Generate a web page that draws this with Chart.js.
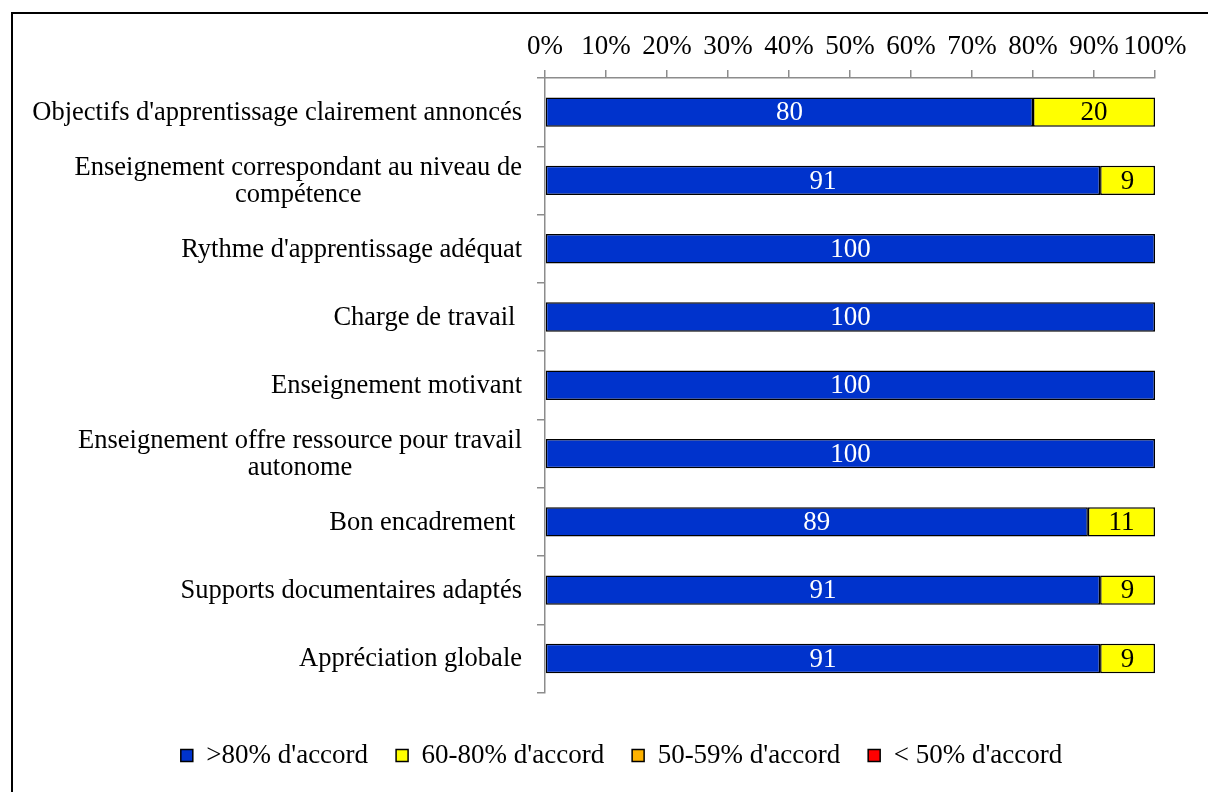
<!DOCTYPE html>
<html>
<head>
<meta charset="utf-8">
<script src="https://cdn.jsdelivr.net/npm/chart.js@4.4.0/dist/chart.umd.min.js"></script>
<style>
  html, body { margin: 0; padding: 0; background: #fff; overflow: hidden; }
</style>
</head>
<body>
<canvas id="chart" width="1208" height="792"></canvas>
<script>
// categories (arrays = wrapped labels)
const categories = [
  "Objectifs d'apprentissage clairement annoncés",
  ["Enseignement correspondant au niveau de", "compétence"],
  "Rythme d'apprentissage adéquat",
  "Charge de travail ",
  "Enseignement motivant",
  ["Enseignement offre ressource pour travail", "autonome"],
  "Bon encadrement ",
  "Supports documentaires adaptés",
  "Appréciation globale"
];

const seriesNames = [">80% d'accord", "60-80% d'accord", "50-59% d'accord", "< 50% d'accord"];
const over80   = [80, 91, 100, 100, 100, 100, 89, 91, 91];
const from60   = [20, 9, null, null, null, null, 11, 9, 9];
const from50   = [null, null, null, null, null, null, null, null, null];
const under50  = [null, null, null, null, null, null, null, null, null];

const xTicks = [0, 10, 20, 30, 40, 50, 60, 70, 80, 90, 100];

const fillColors  = ['#0033CC', '#FFFF00', '#FFB300', '#FF0000'];
const labelColors = ['#FFFFFF', '#000000', '#000000', '#FFFFFF'];
const axisGrey = '#8c8c8c';
const serif = '"Liberation Serif", "Times New Roman", serif';

const frame = {
  id: 'frame',
  beforeDraw(chart) {
    const ctx = chart.ctx;
    ctx.save();
    ctx.fillStyle = '#fff';
    ctx.fillRect(0, 0, chart.width, chart.height);
    ctx.strokeStyle = '#000';
    ctx.lineWidth = 2;
    ctx.strokeRect(12, 13, chart.width + 20, chart.height + 20);
    ctx.restore();
  }
};

// legend sits a bit right of the plot centre in the original
const legendShift = {
  id: 'legendShift',
  afterLayout(chart) {
    chart.legend.left += 88;
  }
};

const barValueLabels = {
  id: 'barValueLabels',
  afterDatasetsDraw(chart) {
    const ctx = chart.ctx;
    ctx.save();
    ctx.font = '27px ' + serif;
    ctx.textAlign = 'center';
    ctx.textBaseline = 'middle';
    chart.data.datasets.forEach((ds, di) => {
      const meta = chart.getDatasetMeta(di);
      meta.data.forEach((bar, i) => {
        const v = ds.data[i];
        if (v == null) return;
        ctx.fillStyle = labelColors[di];
        ctx.fillText(String(v), (bar.x + bar.base) / 2, bar.y + 1);
      });
    });
    ctx.restore();
  }
};

// left labels: lines centred on each other, block right-aligned
const categoryLabels = {
  id: 'categoryLabels',
  afterDraw(chart) {
    const ctx = chart.ctx;
    const y = chart.scales.y;
    const right = y.right - 23;
    const lineGap = 27;
    ctx.save();
    ctx.font = '26.5px ' + serif;
    ctx.fillStyle = '#000';
    ctx.textAlign = 'center';
    ctx.textBaseline = 'middle';
    categories.forEach((lab, i) => {
      const lines = Array.isArray(lab) ? lab : [lab];
      const w = Math.max(...lines.map(l => ctx.measureText(l).width));
      const cx = right - w / 2;
      const cy = y.getPixelForValue(i) + 1;
      lines.forEach((l, k) => {
        ctx.fillText(l, cx, cy + (k - (lines.length - 1) / 2) * lineGap);
      });
    });
    ctx.restore();
  }
};

const datasets = [over80, from60, from50, under50].map((d, i) => ({
  label: seriesNames[i],
  data: d,
  backgroundColor: fillColors[i],
  borderColor: '#000',
  borderWidth: 1.5,
  borderSkipped: false,
  barPercentage: 0.43,
  categoryPercentage: 1
}));

new Chart(document.getElementById('chart'), {
  type: 'bar',
  data: { labels: categories.map(c => Array.isArray(c) ? c.join(' ') : c), datasets: datasets },
  options: {
    indexAxis: 'y',
    responsive: false,
    animation: false,
    layout: { padding: { left: 0, right: 53, top: 0, bottom: 13 } },
    scales: {
      x: {
        position: 'top',
        stacked: true,
        min: 0,
        max: 100,
        afterBuildTicks(s) { s.ticks = xTicks.map(v => ({ value: v })); },
        afterFit(s) { s.height = 78; },
        grid: { drawOnChartArea: false, tickLength: 8, color: axisGrey, lineWidth: 1.5 },
        border: { color: axisGrey, width: 1.5 },
        ticks: {
          autoSkip: false,
          maxRotation: 0,
          padding: 7,
          color: '#000',
          font: { family: serif, size: 27 },
          callback: v => v + '%'
        }
      },
      y: {
        stacked: true,
        afterFit(s) { s.width = 545; },
        grid: { drawOnChartArea: false, tickLength: 8, color: axisGrey, lineWidth: 1.5, offset: true },
        border: { color: axisGrey, width: 1.5 },
        ticks: { display: false }
      }
    },
    plugins: {
      legend: {
        position: 'bottom',
        maxHeight: 100,
        title: { display: true, text: '', padding: { top: 4, bottom: 3 }, font: { size: 12 } },
        labels: {
          boxWidth: 12,
          boxHeight: 12,
          padding: 28,
          color: '#000',
          font: { family: serif, size: 27 }
        }
      },
      tooltip: { enabled: false }
    }
  },
  plugins: [frame, legendShift, barValueLabels, categoryLabels]
});
</script>
</body>
</html>
